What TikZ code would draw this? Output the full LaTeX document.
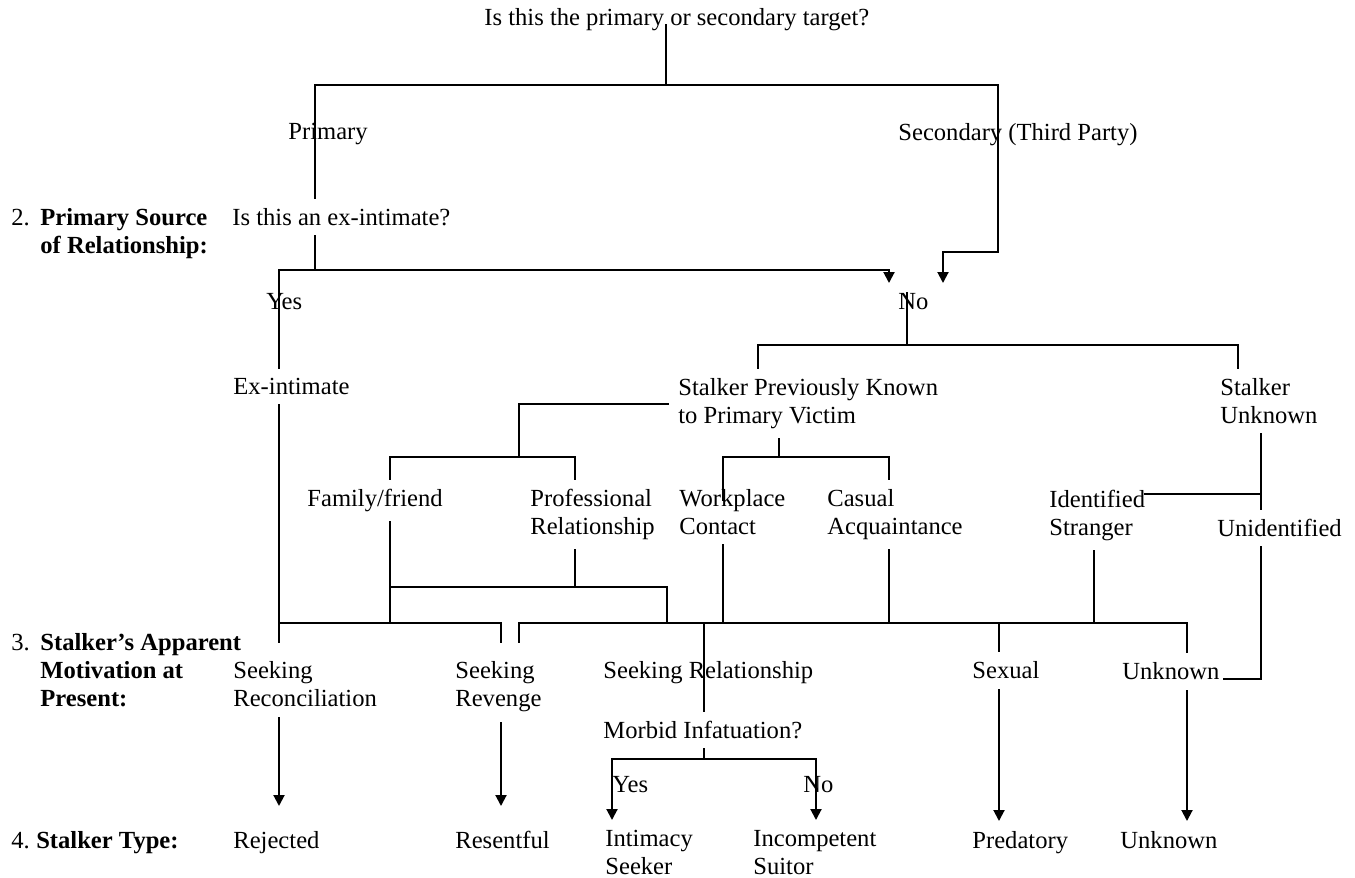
\documentclass[tikz,border=0pt]{standalone}
\usepackage{fontspec}
\setmainfont{Liberation Serif}
\usepackage{tikz}
\usetikzlibrary{arrows.meta,calc}
\newcommand{\treefont}{\fontsize{12.3}{14}\selectfont}
\tikzset{
  treetext/.style={anchor=north west, inner xsep=0pt, inner ysep=5pt,
    align=left, font=\treefont},
  treearrow/.style={line width=1pt, -{Triangle[width=5.5pt,length=5.5pt]}},
  treeline/.style={line width=1pt, line cap=rect},
  stubline/.style={treeline, shorten >=4.5pt}
}

\begin{document}
\begin{tikzpicture}[x=0.5pt, y=-0.5pt]
  \useasboundingbox (0,0) rectangle (1355,878);

  \node[treetext] (q1) at (484,-2) {Is this the primary or secondary target?};
  \node[treetext] (prim) at (288,113) {Primary};
  \node[treetext] (sec) at (898,113) {Secondary (Third Party)};
  \node[treetext] (h2) at (11,198)
    {2.\hspace{5.3pt}\textbf{Primary Source}\\\hspace{14.5pt}\textbf{of Relationship:}};
  \node[treetext] (q2) at (232,198) {Is this an ex-intimate?};
  \node[treetext] (yesA) at (266,283) {Yes};
  \node[treetext] (noA) at (898,283) {No};
  \node[treetext] (exint) at (233,368) {Ex-intimate};
  \node[treetext] (known) at (678,368) {Stalker Previously Known\\to Primary Victim};
  \node[treetext] (sunk) at (1220,368) {Stalker\\Unknown};
  \node[treetext] (family) at (307,479) {Family/friend};
  \node[treetext] (prof) at (530,479) {Professional\\Relationship};
  \node[treetext] (work) at (679,479) {Workplace\\Contact};
  \node[treetext] (casual) at (827,479) {Casual\\Acquaintance};
  \node[treetext] (ident) at (1049,480) {Identified\\Stranger};
  \node[treetext] (unid) at (1217,509) {Unidentified};
  \node[treetext] (h3) at (11,623)
    {3.\hspace{5.3pt}\textbf{Stalker’s Apparent}\\\hspace{14.5pt}\textbf{Motivation at}\\\hspace{14.5pt}\textbf{Present:}};
  \node[treetext] (recon) at (233,651) {Seeking\\Reconciliation};
  \node[treetext] (reveng) at (455,651) {Seeking\\Revenge};
  \node[treetext] (rel) at (603,651) {Seeking Relationship};
  \node[treetext] (sexual) at (972,651) {Sexual};
  \node[treetext] (unkm) at (1122,652) {Unknown};
  \node[treetext] (morbid) at (603,711) {Morbid Infatuation?};
  \node[treetext] (yesB) at (612,766) {Yes};
  \node[treetext] (noB) at (803,766) {No};
  \node[treetext] (h4) at (11,821) {4.\hspace{3.2pt}\textbf{Stalker Type:}};
  \node[treetext] (rej) at (233,821) {Rejected};
  \node[treetext] (resent) at (455,821) {Resentful};
  \node[treetext] (intim) at (605,820) {Intimacy\\Seeker};
  \node[treetext] (incomp) at (753,820) {Incompetent\\Suitor};
  \node[treetext] (pred) at (972,821) {Predatory};
  \node[treetext] (unkt) at (1120,821) {Unknown};

  \coordinate (t0) at (666,85);
  \coordinate (tL) at (315,85);
  \coordinate (tR) at (998,85);
  \coordinate (s1) at (943,252);
  \coordinate (e0) at (315,270);
  \coordinate (eL) at (279,270);
  \coordinate (eR) at (889,270);
  \coordinate (k0) at (907,345);
  \coordinate (kL) at (758,345);
  \coordinate (kR) at (1238,345);
  \coordinate (fb0) at (519,457);
  \coordinate (fbL) at (390,457);
  \coordinate (fbR) at (575,457);
  \coordinate (kb0) at (779,457);
  \coordinate (kbL) at (723,457);
  \coordinate (kbR) at (889,457);
  \coordinate (u0) at (1261,494);
  \coordinate (pf0) at (575,587);
  \coordinate (pfL) at (390,587);
  \coordinate (pfR) at (667,587);
  \coordinate (aL) at (279,623);
  \coordinate (aR) at (501,623);
  \coordinate (bL) at (519,623);
  \coordinate (bR) at (1187,623);
  \coordinate (r0) at (704,623);
  \coordinate (sx) at (999,623);
  \coordinate (id0) at (1094,623);
  \coordinate (un1) at (1261,678);
  \coordinate (m0) at (704,759);
  \coordinate (mL) at (612,759);
  \coordinate (mR) at (816,759);

  \draw[treeline] (q1.base -| t0) -- (t0);
  \draw[treeline] (tL) -- (tR);
  \draw[treeline] (tL) -- (q2.north -| tL);
  \draw[treearrow] (tR) |- (s1) -- (noA.north -| s1);
  \draw[treeline] (q2.south -| e0) -- (e0);
  \draw[treeline] (eL) -- (eR);
  \draw[treearrow] (eR) -- (noA.north -| eR);
  \draw[treeline] (eL) -- (exint.north -| eL);
  \draw[treeline] ($(noA.north -| k0)+(0,10)$) -- (k0);
  \draw[treeline] (kL) -- (kR);
  \draw[treeline] (kL) -- (known.north -| kL);
  \draw[treeline] (kR) -- (sunk.north -| kR);
  \draw[treeline, shorten <=5pt] (known.west) -| (fb0);
  \draw[treeline] (fbL) -- (fbR);
  \draw[treeline] (fbL) -- (family.north -| fbL);
  \draw[treeline] (fbR) -- (prof.north -| fbR);
  \draw[treeline] (known.south -| kb0) -- (kb0);
  \draw[treeline] (kbL) -- (kbR);
  \draw[treeline] (kbL) -- ($(work.north -| kbL)+(0,21)$);
  \draw[treeline] (kbR) -- (casual.north -| kbR);
  \draw[treeline] (sunk.south -| u0) -- (unid.north -| u0);
  \draw[treeline] (ident.east |- u0) -- (u0);

  \draw[treeline] (family.south -| pfL) -- (pfL |- aL);
  \draw[treeline] (prof.south -| pf0) -- (pf0);
  \draw[treeline] (pfL) -- (pfR);
  \draw[treeline] (pfR) -- (pfR |- bL);
  \draw[treeline] (work.south -| kbL) -- (kbL |- bL);
  \draw[treeline] (casual.south -| kbR) -- (kbR |- bL);
  \draw[treeline] (ident.south -| id0) -- (id0);
  \draw[treeline] (unid.south -| un1) |- ([xshift=2pt,yshift=-4pt]unkm.east);

  \draw[stubline] (exint.south -| aL) -- (recon.north -| aL);
  \draw[treeline] (aL) -- (aR);
  \draw[stubline] (aR) -- (reveng.north -| aR);
  \draw[stubline] (bL) -- (reveng.north -| bL);
  \draw[treeline] (bL) -- (bR);
  \draw[treeline] (r0) -- (morbid.north -| r0);
  \draw[treeline] (sx) -- (sexual.north -| sx);
  \draw[treeline] (bR) -- (unkm.north -| bR);
  \draw[treeline] (morbid.south -| m0) -- (m0);
  \draw[treeline] (mL) -- (mR);
  \draw[treearrow] (mL) -- (intim.north -| mL);
  \draw[treearrow] (mR) -- (incomp.north -| mR);
  \draw[treearrow, shorten >=7.5pt] (recon.south -| aL) -- (rej.north -| aL);
  \draw[treearrow, shorten >=7.5pt] (reveng.south -| aR) -- (resent.north -| aR);
  \draw[treearrow] (sexual.south -| sx) -- (pred.north -| sx);
  \draw[treearrow] (unkm.south -| bR) -- (unkt.north -| bR);
\end{tikzpicture}
\end{document}
